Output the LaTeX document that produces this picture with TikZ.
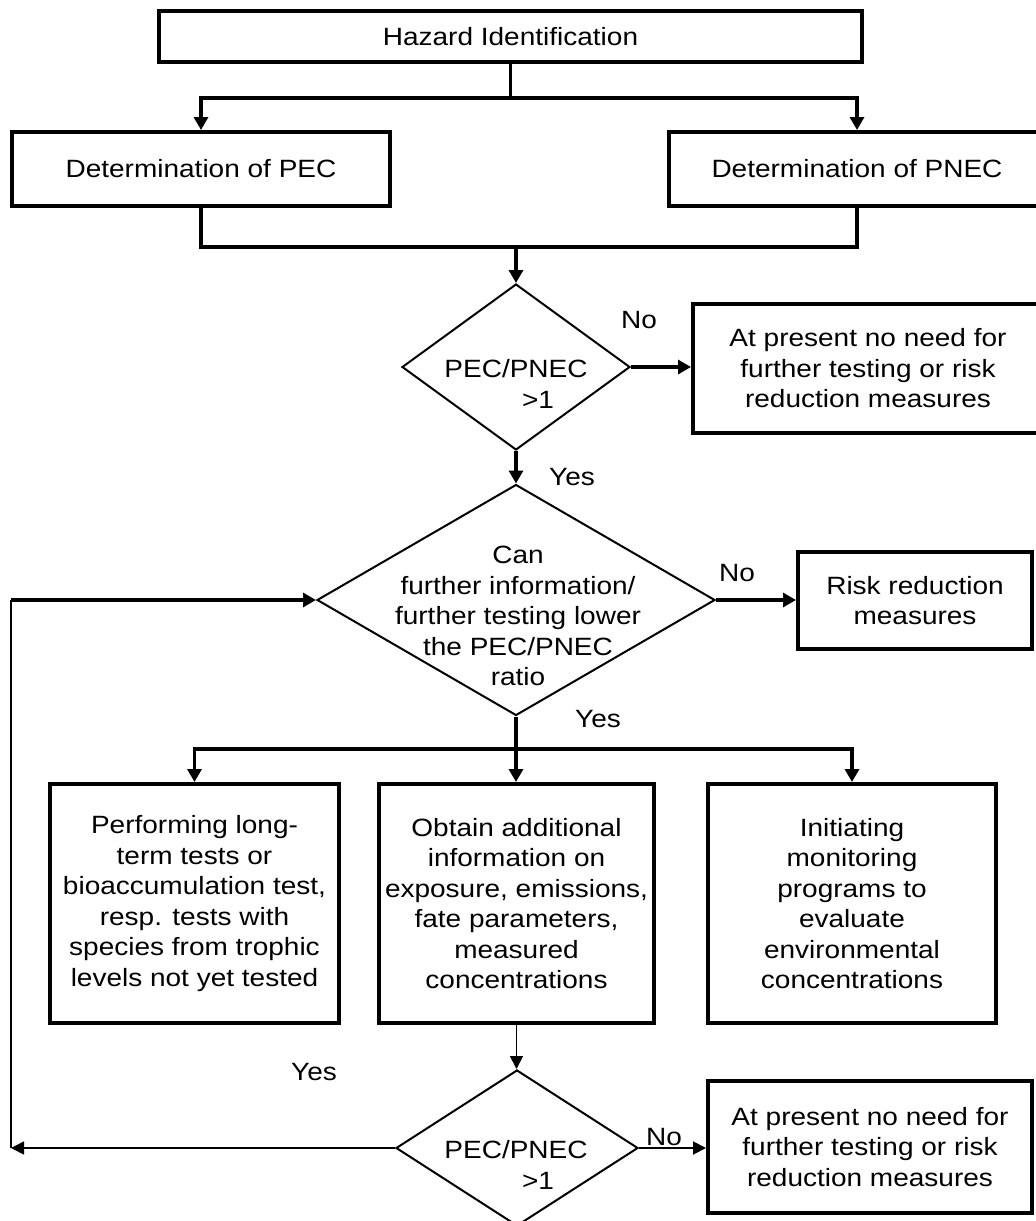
\documentclass[tikz,border=0pt]{standalone}
\usepackage{fontspec}
\setmainfont{Liberation Sans}[FakeStretch=1.12]
\usetikzlibrary{shapes.geometric,arrows.meta}
\begin{document}
\begin{tikzpicture}[x=1pt,y=-1pt,
  font=\fontsize{25pt}{30.5pt}\selectfont,
  box/.style={draw, line width=4pt, inner sep=0pt, align=center},
  dia/.style={draw, diamond, line width=2pt, inner sep=0pt},
  txt/.style={inner sep=0pt, align=center},
  ln/.style={line width=3.2pt},
  conn/.style={line width=3.2pt, -{Triangle[length=13pt,width=14pt]}},
  thinconn/.style={line width=1.6pt, -{Triangle[length=13pt,width=13pt]}},
]
\useasboundingbox (0,0) rectangle (1036,1221);

% boxes and decisions
\node[box, minimum width=703pt, minimum height=51pt] (haz) at (510.5,36.5) {Hazard Identification};
\node[box, minimum width=378pt, minimum height=74pt] (pec) at (201,169) {Determination of PEC};
\node[box, minimum width=376pt, minimum height=74pt] (pnec) at (857,169) {Determination of PNEC};

\node[dia, minimum width=228pt, minimum height=166pt] (d1) at (516,367) {};
\node[txt] (d1t) at (516,384) {PEC/PNEC\\\hspace*{44pt}>1};
\node[box, minimum width=350pt, minimum height=129pt] (na) at (868,368.5) {At present no need for\\further testing or risk\\reduction measures};

\node[dia, minimum width=398pt, minimum height=231pt] (d2) at (516,600) {};
\node[txt] (d2t) at (518,616) {Can\\further information/\\further testing lower\\the PEC/PNEC\\ratio};
\node[box, minimum width=234pt, minimum height=97pt] (risk) at (915,600.5) {Risk reduction\\measures};

\node[box, minimum width=289pt, minimum height=239pt] (b1) at (194.5,903.5) {Performing long-\\term tests or\\bioaccumulation test,\\resp. tests with\\species from trophic\\levels not yet tested};
\node[box, minimum width=275pt, minimum height=239pt] (b2) at (516.5,903.5) {Obtain additional\\information on\\exposure, emissions,\\fate parameters,\\measured\\concentrations};
\node[box, minimum width=288pt, minimum height=239pt] (b3) at (852,903.5) {Initiating\\monitoring\\programs to\\evaluate\\environmental\\concentrations};

\node[dia, minimum width=242pt, minimum height=156pt] (d3) at (517,1148) {};
\node[txt] (d3t) at (516,1165) {PEC/PNEC\\\hspace*{44pt}>1};
\node[box, minimum width=324pt, minimum height=132pt] (nc) at (870,1147) {At present no need for\\further testing or risk\\reduction measures};

% labels
\node[txt] (no1) at (639,320) {No};
\node[txt] (yes1) at (572,477) {Yes};
\node[txt] (no2) at (737,573) {No};
\node[txt] (yes2) at (598,719) {Yes};
\node[txt] (yes3) at (314,1072) {Yes};
\node[txt] (no3) at (664,1137) {No};

% connectors
\coordinate (s1) at (510.5,98);
\draw[ln] (haz.south) -- (s1);
\draw[conn] (s1) -| (pec.north);
\draw[conn] (s1) -| (pnec.north);

\coordinate (m1) at (516,247);
\draw[ln] (pec.south) |- (m1) -| (pnec.south);
\draw[conn] (m1) -- (d1.north);

\draw[conn] (d1.east) -- (d1.east -| na.west);
\draw[conn] (d1.south) -- (d2.north);
\draw[conn] (d2.east) -- (d2.east -| risk.west);

\coordinate (s2) at (516,749);
\draw[ln] (d2.south) -- (s2);
\draw[conn] (s2) -| (b1.north);
\draw[conn] (s2) -- (s2 |- b2.north);
\draw[conn] (s2) -| (b3.north);

\draw[thinconn] (b2.south) -- (b2.south |- d3.north);
\draw[thinconn, line width=2pt] (d3.east) -- (d3.east -| nc.west);

\coordinate (lc) at (11,1148);
\coordinate (lt) at (11,600);
\draw[thinconn] (d3.west) -- (lc);
\draw[line width=2.3pt] (lc) -- (lt);
\draw[conn] (lt) -- (d2.west);
\end{tikzpicture}
\end{document}
